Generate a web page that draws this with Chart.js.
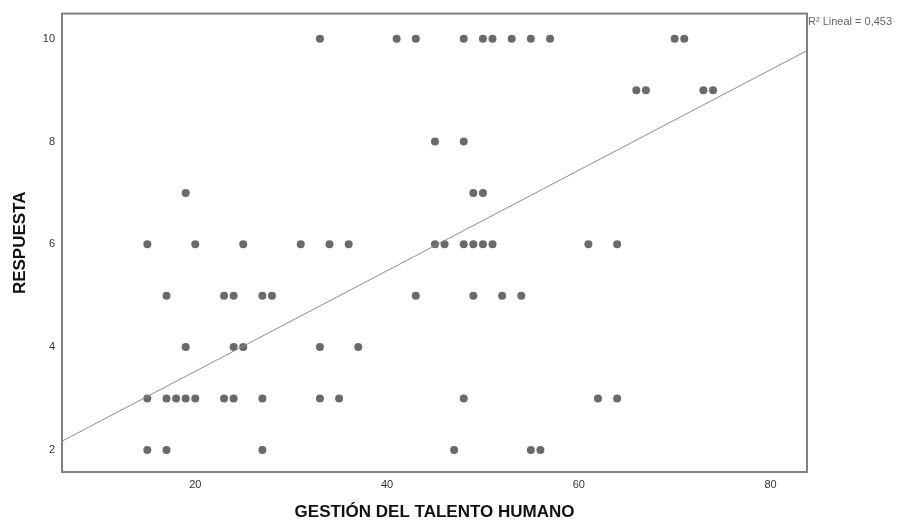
<!DOCTYPE html>
<html>
<head>
<meta charset="utf-8">
<script src="https://cdn.jsdelivr.net/npm/chart.js@4.4.1/dist/chart.umd.min.js"></script>
<style>
  html, body { margin: 0; padding: 0; background: #fff; }
  #wrap { width: 899px; height: 527px; }
</style>
</head>
<body>
<div id="wrap"><canvas id="chart" width="899" height="527"></canvas></div>
<script>
// values, one array per response level
const Y_LEVELS = [10, 9, 8, 7, 6, 5, 4, 3, 2];
const X_AT_10 = [33, 41, 43, 48, 50, 51, 53, 55, 57, 70, 71];
const X_AT_9 = [66, 67, 73, 74];
const X_AT_8 = [45, 48];
const X_AT_7 = [19, 49, 50];
const X_AT_6 = [15, 20, 25, 31, 34, 36, 45, 46, 48, 49, 50, 51, 61, 64];
const X_AT_5 = [17, 23, 24, 27, 28, 43, 49, 52, 54];
const X_AT_4 = [19, 24, 25, 33, 37];
const X_AT_3 = [15, 17, 18, 19, 20, 23, 24, 27, 33, 35, 48, 62, 64];
const X_AT_2 = [15, 17, 27, 47, 55, 56];

const X_RANGE = [6.1, 83.8];
const Y_RANGE = [1.57, 10.49];
const X_TICKS = [20, 40, 60, 80];
const Y_TICKS = [2, 4, 6, 8, 10];

// fit line
const FIT_X = [6.1, 83.8];
const FIT_Y = [2.17, 9.77];
const R2_LABEL = "R\u00B2 Lineal = 0,453";

const X_TITLE = "GESTIÓN DEL TALENTO HUMANO";
const Y_TITLE = "RESPUESTA";

const rows = [X_AT_10, X_AT_9, X_AT_8, X_AT_7, X_AT_6, X_AT_5, X_AT_4, X_AT_3, X_AT_2];
const points = [];
rows.forEach((xs, i) => {
  xs.forEach((x) => points.push({ x: x, y: Y_LEVELS[i] }));
});

const frame = {
  id: "frame",
  afterDraw(chart) {
    const { ctx, chartArea: a } = chart;
    ctx.save();
    ctx.strokeStyle = "#808080";
    ctx.lineWidth = 2;
    ctx.strokeRect(a.left, a.top, a.right - a.left, a.bottom - a.top);
    ctx.fillStyle = "#666";
    ctx.font = "11px 'Liberation Sans', Arial, sans-serif";
    ctx.textBaseline = "middle";
    ctx.textAlign = "left";
    ctx.fillText(R2_LABEL, a.right + 1, 22);
    ctx.restore();
  },
};

new Chart(document.getElementById("chart"), {
  type: "scatter",
  data: {
    datasets: [
      {
        type: "line",
        data: FIT_X.map((x, i) => ({ x: x, y: FIT_Y[i] })),
        borderColor: "#8f8f8f",
        borderWidth: 1,
        pointRadius: 0,
        fill: false,
      },
      {
        data: points,
        backgroundColor: "#6a6a6a",
        borderWidth: 0,
        pointRadius: 4,
      },
    ],
  },
  options: {
    responsive: false,
    animation: false,
    layout: { padding: { left: 0, right: 92, top: 12, bottom: 0 } },
    plugins: { legend: { display: false }, tooltip: { enabled: false } },
    scales: {
      x: {
        type: "linear",
        min: X_RANGE[0], max: X_RANGE[1],
        afterBuildTicks: (s) => { s.ticks = X_TICKS.map((v) => ({ value: v })); },
        afterFit: (s) => { s.height = 55; },
        grid: { display: false, drawTicks: false },
        border: { display: false },
        ticks: { color: "#333", padding: 6, font: { size: 11, family: "'Liberation Sans', Arial" } },
        title: {
          display: true, text: X_TITLE, color: "#111",
          font: { size: 17, weight: "bold", family: "'Liberation Sans', Arial" },
          padding: { top: 0, bottom: 4 },
        },
      },
      y: {
        type: "linear",
        min: Y_RANGE[0], max: Y_RANGE[1],
        afterBuildTicks: (s) => { s.ticks = Y_TICKS.map((v) => ({ value: v })); },
        afterFit: (s) => { s.width = 62; },
        grid: { display: false, drawTicks: false },
        border: { display: false },
        ticks: { color: "#333", padding: 7, font: { size: 11, family: "'Liberation Sans', Arial" } },
        title: {
          display: true, text: Y_TITLE, color: "#111",
          font: { size: 17, weight: "bold", family: "'Liberation Sans', Arial" },
          padding: { top: 10, bottom: 0 },
        },
      },
    },
  },
  plugins: [frame],
});
</script>
</body>
</html>
